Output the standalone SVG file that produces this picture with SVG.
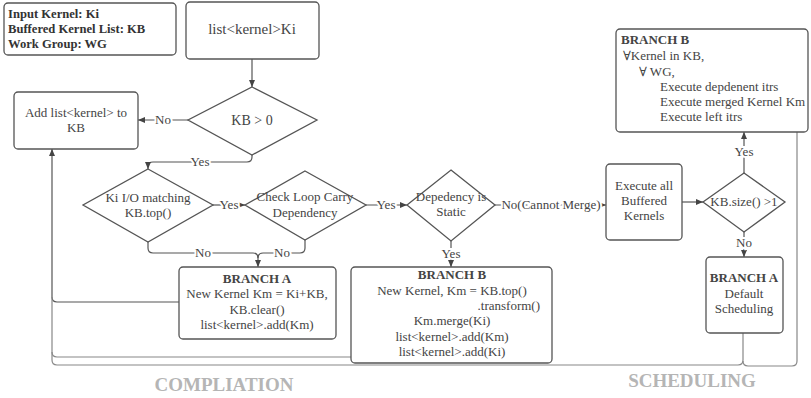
<svg xmlns="http://www.w3.org/2000/svg" width="811" height="398" viewBox="0 0 811 398" font-family="'Liberation Serif','Times New Roman',Tinos,'DejaVu Serif',serif">
<style>
.n{fill:#fff;stroke:#555;stroke-width:1.3}
.t{font-family:'Liberation Serif','Times New Roman',Tinos,'DejaVu Serif',serif;font-size:13px;fill:#444;text-anchor:middle}
.b{font-weight:bold}
.l{stroke:#555;stroke-width:1.2;fill:none}
.lg{stroke:#888;stroke-width:1.2;fill:none}
.lab{font-family:'Liberation Serif','Times New Roman',Tinos,'DejaVu Serif',serif;font-size:13px;fill:#444;text-anchor:middle;stroke:#fff;stroke-width:4;paint-order:stroke}
.big{font-family:'Liberation Serif','Times New Roman',Tinos,'DejaVu Serif',serif;font-size:19px;font-weight:bold;fill:#b5b5b5;text-anchor:middle}
</style>
<defs>
<marker id="a" markerWidth="8" markerHeight="7" refX="7" refY="3.5" orient="auto" markerUnits="userSpaceOnUse"><path d="M0,0.5 L7,3.5 L0,6.5 z" fill="#444"/></marker>
</defs>
<g id="connectors">
<path class="l" d="M252,59 L252,87" marker-end="url(#a)"/>
<path class="l" d="M188,120 L138,120" marker-end="url(#a)"/>
<path class="l" d="M252,155 L252,157 Q252,162 247,162 L153,162 Q148,162 148,167 L148,169" marker-end="url(#a)"/>
<path class="l" d="M213,205 L245,205" marker-end="url(#a)"/>
<path class="l" d="M366,205 L407,205" marker-end="url(#a)"/>
<path class="l" d="M495,205 L606,205" marker-end="url(#a)"/>
<path class="l" d="M451,241 L451,267" marker-end="url(#a)"/>
<path class="l" d="M148,242 L148,248 Q148,253 153,253 L253,253 Q258,253 258,258 L258,267" marker-end="url(#a)"/>
<path class="l" d="M305,240 L305,248 Q305,253 300,253 L263,253 Q258,253 258,258"/>
<path class="l" d="M682,202 L703,202" marker-end="url(#a)"/>
<path class="l" d="M744,173 L744,132" marker-end="url(#a)"/>
<path class="l" d="M744,232 L744,257" marker-end="url(#a)"/>
<path class="l" d="M179,302 L57,302 Q52,302 52,297 L52,149" marker-end="url(#a)"/>
<path class="lg" d="M351,357 L57,357 Q52,357 52,352 L52,297"/>
<path class="lg" d="M743,333 L743,360 Q743,365 738,365 L57,365 Q52,365 52,360 L52,352"/>
<path class="lg" d="M797,132 L797,361 Q797,366 792,366 L748,366 Q743,366 743,361"/>
<text class="lab" x="163" y="124">No</text>
<text class="lab" x="200" y="166">Yes</text>
<text class="lab" x="229" y="209">Yes</text>
<text class="lab" x="386" y="209">Yes</text>
<text class="lab" x="551" y="209">No(Cannot Merge)</text>
<text class="lab" x="451" y="258">Yes</text>
<text class="lab" x="203" y="257">No</text>
<text class="lab" x="282" y="257">No</text>
<text class="lab" x="744" y="156">Yes</text>
<text class="lab" x="744" y="247">No</text>
</g>
<g id="legend">
<rect class="n" x="4" y="3" width="172" height="52" rx="4"/>
<text class="t b" x="8" y="18" style="text-anchor:start;fill:#333;font-size:12.6px">Input Kernel:  Ki</text>
<text class="t b" x="8" y="33" style="text-anchor:start;fill:#333;font-size:12.6px">Buffered Kernel List: KB</text>
<text class="t b" x="8" y="48" style="text-anchor:start;fill:#333;font-size:12.6px">Work Group: WG</text>
</g>
<g id="start">
<rect class="n" x="186" y="2" width="133" height="57" rx="4"/>
<text class="t" x="252" y="34" style="font-size:15px">list&lt;kernel&gt;Ki</text>
</g>
<g id="kb0">
<polygon class="n" points="252,87 317,120 252,155 188,120"/>
<text class="t" x="252" y="125" style="font-size:14px">KB &gt; 0</text>
</g>
<g id="addlist">
<rect class="n" x="14" y="92" width="124" height="57" rx="4"/>
<text class="t" x="76" y="117">Add list&lt;kernel&gt; to</text>
<text class="t" x="76" y="132">KB</text>
</g>
<g id="iomatch">
<polygon class="n" points="148,169 213,205 148,242 83,205"/>
<text class="t" x="148" y="202">Ki I/O matching</text>
<text class="t" x="148" y="217">KB.top()</text>
</g>
<g id="loopcarry">
<polygon class="n" points="305,171 366,205 305,240 245,205"/>
<text class="t" x="305" y="201">Check Loop Carry</text>
<text class="t" x="305" y="217">Dependency</text>
</g>
<g id="static">
<polygon class="n" points="451,170 495,205 451,241 407,205"/>
<text class="t" x="451" y="201">Depedency is</text>
<text class="t" x="451" y="216">Static</text>
</g>
<g id="branchA1">
<rect class="n" x="179" y="267" width="157" height="72" rx="4"/>
<text class="t b" x="257" y="283">BRANCH A</text>
<text class="t" x="257" y="298">New Kernel Km = Ki+KB,</text>
<text class="t" x="257" y="314">KB.clear()</text>
<text class="t" x="257" y="329">list&lt;kernel&gt;.add(Km)</text>
</g>
<g id="branchB1">
<rect class="n" x="351" y="267" width="201" height="96" rx="4"/>
<text class="t b" x="452" y="279">BRANCH B</text>
<text class="t" x="452" y="295">New Kernel, Km = KB.top()</text>
<text class="t" x="540" y="310" style="text-anchor:end">.transform()</text>
<text class="t" x="452" y="325">Km.merge(Ki)</text>
<text class="t" x="452" y="341">list&lt;kernel&gt;.add(Km)</text>
<text class="t" x="452" y="356">list&lt;kernel&gt;.add(Ki)</text>
</g>
<g id="execall">
<rect class="n" x="606" y="164" width="76" height="76" rx="4"/>
<text class="t" x="644" y="190">Execute all</text>
<text class="t" x="644" y="205">Buffered</text>
<text class="t" x="644" y="220">Kernels</text>
</g>
<g id="kbsize">
<polygon class="n" points="744,173 785,202 744,232 703,202"/>
<text class="t" x="744" y="206">KB.size() &gt;1</text>
</g>
<g id="branchA2">
<rect class="n" x="706" y="257" width="77" height="76" rx="4"/>
<text class="t b" x="744" y="282">BRANCH A</text>
<text class="t" x="744" y="298">Default</text>
<text class="t" x="744" y="313">Scheduling</text>
</g>
<g id="branchB2">
<rect class="n" x="616" y="29" width="192" height="103" rx="4"/>
<text class="t b" x="621" y="44" style="text-anchor:start">BRANCH B</text>
<text class="t" x="623" y="60" style="text-anchor:start">∀Kernel in KB,</text>
<text class="t" x="639" y="76" style="text-anchor:start">∀ WG,</text>
<text class="t" x="660" y="91" style="text-anchor:start">Execute depdenent itrs</text>
<text class="t" x="660" y="106" style="text-anchor:start">Execute merged Kernel Km</text>
<text class="t" x="660" y="121" style="text-anchor:start">Execute left itrs</text>
</g>
<text class="big" x="224" y="391">COMPLIATION</text>
<text class="big" x="692" y="387">SCHEDULING</text>
</svg>
